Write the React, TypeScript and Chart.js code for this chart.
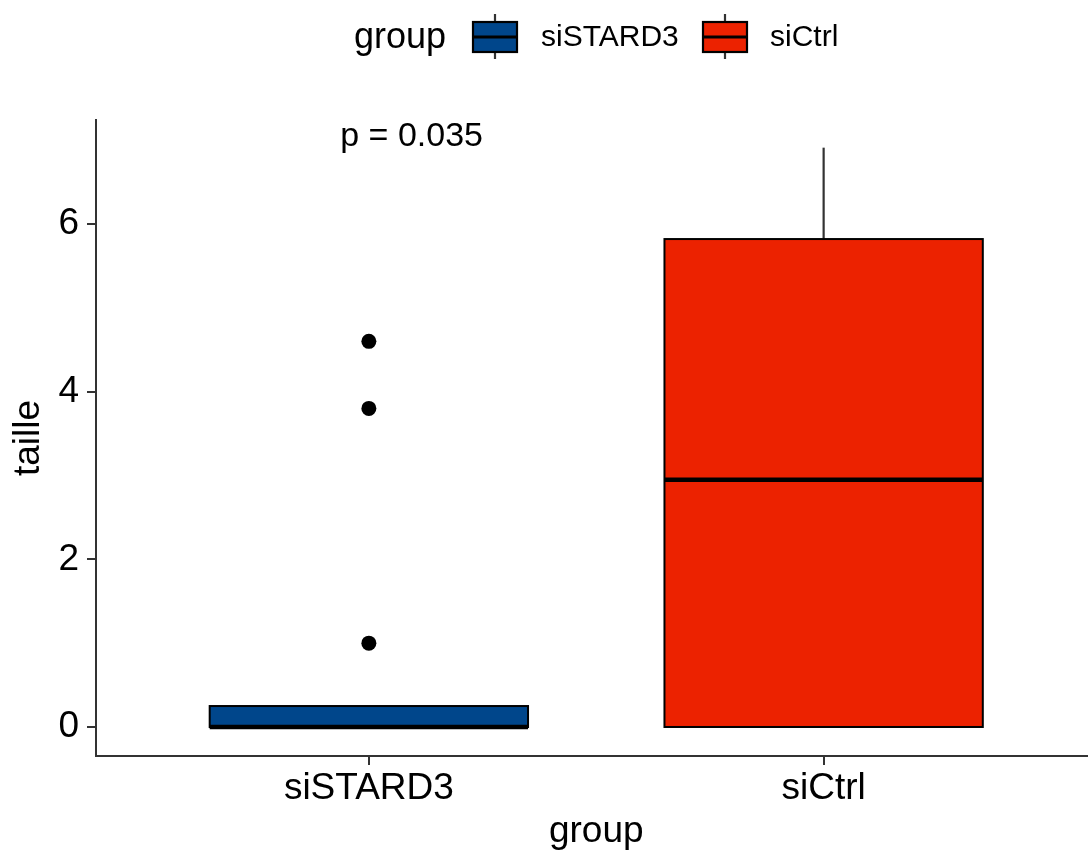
import React, { useEffect, useRef } from "react";
import { Chart, registerables } from "chart.js";

Chart.register(...registerables);

const categories = ["siSTARD3", "siCtrl"];
const q1Values = [0, 0];
const medianValues = [0, 2.95];
const q3Values = [0.25, 5.82];
const whiskerLow = [0, 0];
const whiskerHigh = [0.25, 6.91];
const outlierValues = [[4.6, 3.8, 1.0], []];
const boxColors = ["#00468B", "#EC2200"];
const yTicks = [0, 2, 4, 6];
const pLabel = "p = 0.035";
const pLabelPos = { x: 1.094, y: 7.04 };

const FONT = '"Liberation Sans", Arial, sans-serif';

const boxPlugin = {
  id: "boxes",
  beforeDatasetsDraw(chart: any) {
    const ctx = chart.ctx;
    const xs = chart.scales.x;
    const ys = chart.scales.y;
    const halfW = 0.35;
    ctx.save();
    categories.forEach((_, i) => {
      const xc = xs.getPixelForValue(i + 1);
      const xl = xs.getPixelForValue(i + 1 - halfW);
      const xr = xs.getPixelForValue(i + 1 + halfW);
      const yq1 = ys.getPixelForValue(q1Values[i]);
      const yq3 = ys.getPixelForValue(q3Values[i]);
      const ymed = ys.getPixelForValue(medianValues[i]);
      const ylo = ys.getPixelForValue(whiskerLow[i]);
      const yhi = ys.getPixelForValue(whiskerHigh[i]);
      ctx.strokeStyle = "#333333";
      ctx.lineWidth = 2.2;
      ctx.beginPath();
      ctx.moveTo(xc, yq3);
      ctx.lineTo(xc, yhi);
      ctx.moveTo(xc, yq1);
      ctx.lineTo(xc, ylo);
      ctx.stroke();
      ctx.fillStyle = boxColors[i];
      ctx.fillRect(xl, yq3, xr - xl, yq1 - yq3);
      ctx.strokeStyle = "#000000";
      ctx.lineWidth = 2;
      ctx.strokeRect(xl, yq3, xr - xl, yq1 - yq3);
      ctx.lineWidth = 4.5;
      ctx.beginPath();
      ctx.moveTo(xl, ymed);
      ctx.lineTo(xr, ymed);
      ctx.stroke();
    });
    ctx.restore();
  },
  afterDraw(chart: any) {
    const ctx = chart.ctx;
    const xs = chart.scales.x;
    const ys = chart.scales.y;
    ctx.save();
    ctx.fillStyle = "#000000";
    ctx.font = `34px ${FONT}`;
    ctx.textAlign = "center";
    ctx.textBaseline = "middle";
    ctx.fillText(pLabel, xs.getPixelForValue(pLabelPos.x), ys.getPixelForValue(pLabelPos.y));

    // legend
    ctx.textAlign = "left";
    ctx.font = `36px ${FONT}`;
    ctx.fillText("group", 354, 38);
    const keyX = [473, 703];
    const textX = [541, 770];
    ctx.font = `30px ${FONT}`;
    categories.forEach((c, i) => {
      const kx = keyX[i];
      const kw = 44;
      const top = 22;
      const bot = 52;
      const cx = kx + kw / 2;
      ctx.strokeStyle = "#333333";
      ctx.lineWidth = 2.2;
      ctx.beginPath();
      ctx.moveTo(cx, 14);
      ctx.lineTo(cx, top);
      ctx.moveTo(cx, bot);
      ctx.lineTo(cx, 59);
      ctx.stroke();
      ctx.fillStyle = boxColors[i];
      ctx.fillRect(kx, top, kw, bot - top);
      ctx.strokeStyle = "#000000";
      ctx.lineWidth = 2.2;
      ctx.strokeRect(kx, top, kw, bot - top);
      ctx.lineWidth = 3;
      ctx.beginPath();
      ctx.moveTo(kx, (top + bot) / 2);
      ctx.lineTo(kx + kw, (top + bot) / 2);
      ctx.stroke();
      ctx.fillStyle = "#000000";
      ctx.fillText(c, textX[i], 38);
    });
    ctx.restore();
  },
};

export default function App() {
  const canvasRef = useRef<HTMLCanvasElement | null>(null);

  useEffect(() => {
    if (!canvasRef.current) return;
    const outlierData: { x: number; y: number }[] = [];
    outlierValues.forEach((arr, i) => arr.forEach((v) => outlierData.push({ x: i + 1, y: v })));

    const chart = new Chart(canvasRef.current, {
      type: "scatter",
      data: {
        datasets: [
          {
            label: "outliers",
            data: outlierData,
            pointRadius: 7.5,
            pointBackgroundColor: "#000000",
            pointBorderColor: "#000000",
            pointBorderWidth: 0,
          },
        ],
      },
      options: {
        animation: false,
        responsive: true,
        maintainAspectRatio: false,
        layout: { padding: { top: 120, left: 0, right: 0, bottom: 0 } },
        plugins: {
          legend: { display: false },
          tooltip: { enabled: false },
        },
        scales: {
          x: {
            type: "linear",
            min: 0.4,
            max: 2.6,
            afterBuildTicks: (s: any) => {
              s.ticks = categories.map((_, i) => ({ value: i + 1 }));
            },
            afterFit: (s: any) => {
              s.height = 100;
            },
            ticks: {
              callback: (v: any) => categories[Math.round(Number(v)) - 1] ?? "",
              color: "#000000",
              font: { size: 37, family: FONT },
              padding: 2,
              maxRotation: 0,
            },
            grid: {
              display: true,
              drawOnChartArea: false,
              drawTicks: true,
              tickLength: 9,
              color: "#333333",
              lineWidth: 2,
            },
            border: { display: true, color: "#333333", width: 2 },
            title: {
              display: true,
              text: "group",
              color: "#000000",
              font: { size: 37, family: FONT },
              padding: { top: 0, bottom: 2 },
            },
          },
          y: {
            type: "linear",
            min: -0.346,
            max: 7.24,
            afterBuildTicks: (s: any) => {
              s.ticks = yTicks.map((v) => ({ value: v }));
            },
            afterFit: (s: any) => {
              s.width = 96;
            },
            ticks: {
              color: "#000000",
              font: { size: 37, family: FONT },
              padding: 8,
            },
            grid: {
              display: true,
              drawOnChartArea: false,
              drawTicks: true,
              tickLength: 9,
              color: "#333333",
              lineWidth: 2,
            },
            border: { display: true, color: "#333333", width: 2 },
            title: {
              display: true,
              text: "taille",
              color: "#000000",
              font: { size: 37, family: FONT },
              padding: { top: 7, bottom: 0 },
            },
          },
        },
      },
      plugins: [boxPlugin],
    });
    return () => chart.destroy();
  }, []);

  return (
    <div style={{ position: "absolute", left: 0, top: 0, width: 1088, height: 852, overflow: "hidden", background: "#ffffff" }}>
      <div style={{ position: "relative", width: 1104, height: 856 }}>
        <canvas ref={canvasRef} />
      </div>
    </div>
  );
}
